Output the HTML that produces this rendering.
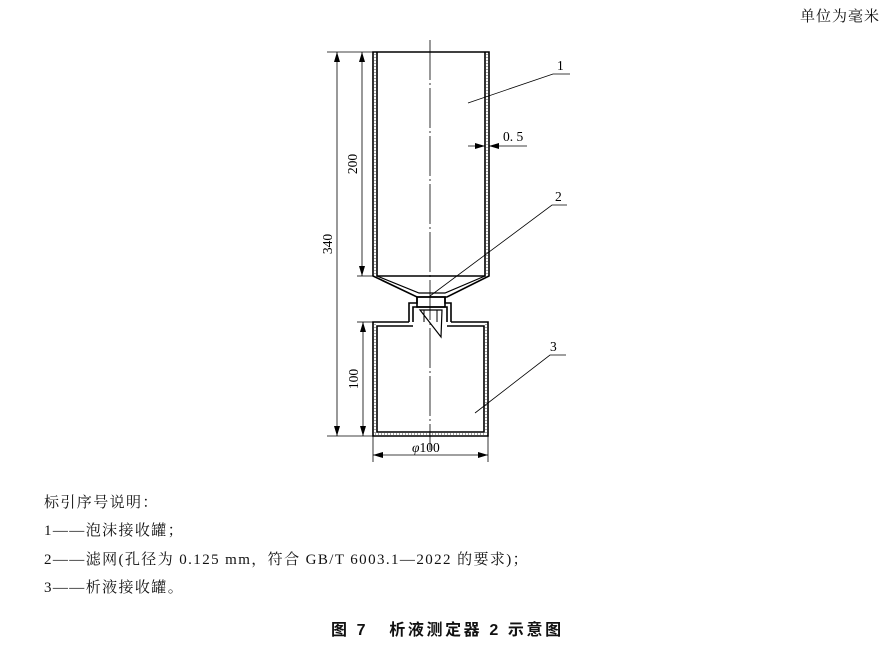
<!DOCTYPE html>
<html><head><meta charset="utf-8"><style>
body{margin:0;background:#fff;width:895px;height:647px;overflow:hidden;position:relative;font-family:"Liberation Serif","Noto Serif CJK SC",serif;color:#111}
.t{position:absolute;font-size:15px;white-space:nowrap;line-height:1;letter-spacing:1.4px}
</style></head><body>
<svg width="895" height="647" style="position:absolute;left:0;top:0" font-family="Liberation Serif, serif" font-size="13.5">
<defs><marker id="a" markerWidth="10" markerHeight="6" refX="10" refY="3" orient="auto-start-reverse" markerUnits="userSpaceOnUse"><path d="M0,0L10,3L0,6z" fill="#000"/></marker></defs>
<g stroke="#000" fill="none" stroke-width="1.6">
<path d="M373,52V276L417,297H447L489,276V52Z"/>
<path d="M377,52V276H485V52"/>
<path d="M377,276L419,293H445L485,276" stroke-width="1.2"/>
<path d="M409,322V303H417V297M451,322V303H445V297" />
<path d="M413,322V307H447V322"/>
<rect x="417" y="297" width="28" height="10"/>
<path d="M420,310H442L441,337Z" stroke-width="1.2"/>
<line x1="424" y1="310" x2="424" y2="322" stroke-width="1"/><line x1="437" y1="310" x2="437" y2="322" stroke-width="1"/>
<path d="M409,322H373V436H488V322H451"/>
<path d="M413,326H377V432H484V326H447"/>
</g>
<g stroke="#000" stroke-width="0.7" stroke-dasharray="1,2">
<line x1="375" y1="54" x2="375" y2="274"/><line x1="487" y1="54" x2="487" y2="274"/>
<line x1="375" y1="324" x2="375" y2="434"/><line x1="486" y1="324" x2="486" y2="434"/>
<line x1="375" y1="434" x2="486" y2="434"/>
</g>
<line x1="430" y1="40" x2="430" y2="450" stroke="#000" stroke-width="0.8" stroke-dasharray="40,3,2,3"/>
<g stroke="#000" stroke-width="0.8" fill="none">
<line x1="327" y1="52" x2="373" y2="52"/><line x1="327" y1="436" x2="373" y2="436"/>
<line x1="357" y1="276" x2="373" y2="276"/><line x1="357" y1="322" x2="373" y2="322"/>
<line x1="337" y1="52" x2="337" y2="436" marker-start="url(#a)" marker-end="url(#a)"/>
<line x1="362" y1="52" x2="362" y2="276" marker-start="url(#a)" marker-end="url(#a)"/>
<line x1="363" y1="322" x2="363" y2="436" marker-start="url(#a)" marker-end="url(#a)"/>
<line x1="373" y1="436" x2="373" y2="462"/><line x1="488" y1="436" x2="488" y2="462"/>
<line x1="373" y1="455" x2="488" y2="455" marker-start="url(#a)" marker-end="url(#a)"/>
<line x1="468" y1="146" x2="485" y2="146" marker-end="url(#a)"/>
<line x1="527" y1="146" x2="489" y2="146" marker-end="url(#a)"/>
<polyline points="468,103 553,74 570,74"/>
<polyline points="430,296 552,205 567,205"/>
<polyline points="475,413 550,355 566,355"/>
</g>
<g fill="#000">
<text x="503" y="141">0. 5</text>
<text x="557" y="70">1</text>
<text x="555" y="201">2</text>
<text x="550" y="351">3</text>
<text x="412" y="452"><tspan font-style="italic">φ</tspan>100</text>
<text transform="translate(357,164) rotate(-90)" text-anchor="middle">200</text>
<text transform="translate(332,244) rotate(-90)" text-anchor="middle">340</text>
<text transform="translate(358,379) rotate(-90)" text-anchor="middle">100</text>
</g>
</svg>
<div class="t" style="left:800px;top:10px;letter-spacing:1px">单位为毫米</div>
<div class="t" style="left:44px;top:496px">标引序号说明：</div>
<div class="t" style="left:44px;top:524px">1——泡沫接收罐；</div>
<div class="t" style="left:44px;top:553px">2——滤网(孔径为 0.125 mm，符合 GB/T 6003.1—2022 的要求)；</div>
<div class="t" style="left:44px;top:581px">3——析液接收罐。</div>
<div class="t" style="left:331px;top:623px;font-size:16px;font-weight:bold;font-family:'Liberation Sans','Noto Sans CJK SC',sans-serif;letter-spacing:2.6px">图 7 &nbsp;&nbsp;析液测定器 2 示意图</div>
</body></html>
